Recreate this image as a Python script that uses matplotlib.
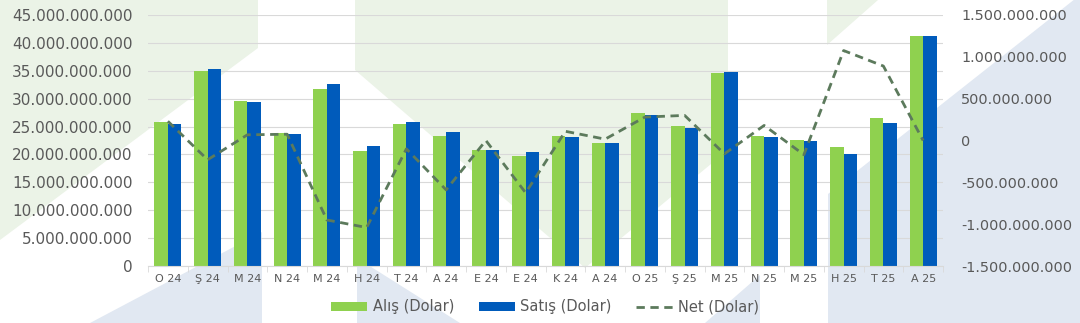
import matplotlib
matplotlib.use("Agg")
import matplotlib.pyplot as plt
from matplotlib.patches import Polygon
from matplotlib.ticker import FuncFormatter, FixedLocator
import numpy as np

categories = ["O 24", "Ş 24", "M 24", "N 24", "M 24", "H 24", "T 24", "A 24", "E 24", "E 24",
              "K 24", "A 24", "O 25", "Ş 25", "M 25", "N 25", "M 25", "H 25", "T 25", "A 25"]
alis = [25.87e9, 35.0e9, 29.6e9, 23.8e9, 31.8e9, 20.6e9, 25.5e9, 23.36e9, 20.86e9, 19.78e9,
        23.25e9, 22.0e9, 27.43e9, 25.1e9, 34.55e9, 23.25e9, 22.67e9, 21.27e9, 26.48e9, 41.3e9]
satis = [25.5e9, 35.4e9, 29.45e9, 23.67e9, 32.7e9, 21.57e9, 25.76e9, 24.0e9, 20.8e9, 20.4e9,
         23.07e9, 22.0e9, 27.13e9, 24.8e9, 34.8e9, 23.07e9, 22.37e9, 20.14e9, 25.7e9, 41.3e9]
net = [0.23e9, -0.23e9, 0.068e9, 0.075e9, -0.95e9, -1.04e9, -0.10e9, -0.59e9, 0.0e9, -0.625e9,
       0.11e9, 0.016e9, 0.28e9, 0.30e9, -0.16e9, 0.18e9, -0.17e9, 1.075e9, 0.89e9, 0.0e9]

W, H = 1080, 323
fig = plt.figure(figsize=(W / 100, H / 100), dpi=100)
fig.patch.set_facecolor("white")

def px(points):
    return [(x / W, 1 - y / H) for x, y in points]

green_bg = "#ebf3e7"
blue_bg = "#e1e8f2"
bg_shapes = [
    ([(0, 0), (258, 0), (258, 48), (0, 240)], green_bg),
    ([(355, 0), (728, 0), (728, 150), (585, 268), (355, 70)], green_bg),
    ([(827, 0), (878, 0), (827, 45)], green_bg),
    ([(90, 323), (262, 232), (262, 323)], blue_bg),
    ([(357, 258), (357, 323), (460, 323)], blue_bg),
    ([(705, 323), (760, 275), (760, 323)], blue_bg),
    ([(828, 323), (828, 194), (1080, -5), (1080, 323)], blue_bg),
]
for pts, col in bg_shapes:
    fig.add_artist(Polygon(px(pts), closed=True, transform=fig.transFigure,
                           facecolor=col, edgecolor="none", zorder=0))

ax = fig.add_axes([148 / W, 1 - 266 / H, (943 - 148) / W, (266 - 15) / H])
ax.set_facecolor("none")
ax.set_zorder(1)

x = np.arange(len(categories))
bw = 0.34
green = "#8fd14f"
blue = "#005bbb"
ax.bar(x - bw / 2, alis, width=bw, color=green, label="Alış (Dolar)", zorder=2)
ax.bar(x + bw / 2, satis, width=bw, color=blue, label="Satış (Dolar)", zorder=2)

ax.set_xlim(-0.5, len(categories) - 0.5)
ax.set_ylim(0, 45e9)
ax.set_yticks(np.arange(0, 45e9 + 1, 5e9))

def dotfmt(v, pos):
    s = f"{abs(int(round(v))):,}".replace(",", ".")
    return ("-" if v < 0 else "") + s

ax.yaxis.set_major_formatter(FuncFormatter(dotfmt))
ax.grid(axis="y", color="#d9d9d9", linewidth=0.8, zorder=0)
ax.set_axisbelow(True)
for s in ["top", "right", "left"]:
    ax.spines[s].set_visible(False)
ax.spines["bottom"].set_color("#d9d9d9")
ax.tick_params(axis="y", length=0, labelsize=11, labelcolor="#595959", pad=11)
ax.set_xticks(x)
ax.set_xticklabels(categories)
ax.tick_params(axis="x", length=0, labelsize=8, labelcolor="#595959", pad=6)
ax.xaxis.set_minor_locator(FixedLocator(np.arange(-0.5, len(categories), 1.0)))
ax.tick_params(axis="x", which="minor", length=4, color="#d9d9d9")

ax2 = ax.twinx()
ax2.set_zorder(2)
ax2.plot(x, net, color="#5c7a5c", linestyle=(0, (3, 2)), linewidth=2.0, label="Net (Dolar)")
ax2.set_ylim(-1.5e9, 1.5e9)
ax2.set_yticks(np.arange(-1.5e9, 1.5e9 + 1, 0.5e9))
ax2.yaxis.set_major_formatter(FuncFormatter(dotfmt))
for s in ["top", "right", "left", "bottom"]:
    ax2.spines[s].set_visible(False)
ax2.tick_params(axis="y", length=0, labelsize=10.4, labelcolor="#595959", pad=13)

h1, l1 = ax.get_legend_handles_labels()
h2, l2 = ax2.get_legend_handles_labels()
fig.legend(h1 + h2, l1 + l2, loc="center", bbox_to_anchor=(545 / W, 1 - 307 / H),
           ncol=3, frameon=False, fontsize=10.5, labelcolor="#595959",
           handlelength=2.5, handleheight=0.55, columnspacing=1.7, handletextpad=0.35)

fig.savefig("out.png", dpi=100, facecolor="white")
